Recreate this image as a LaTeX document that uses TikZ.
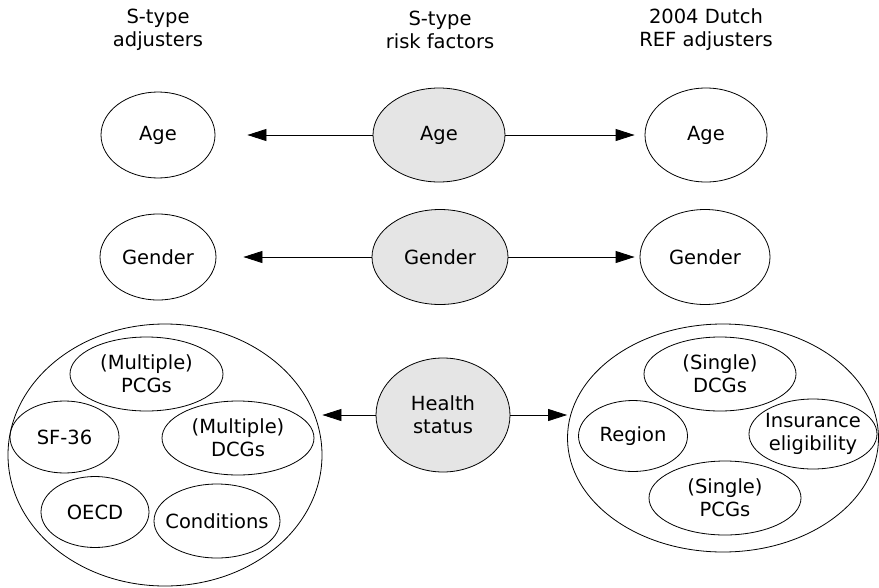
\documentclass[tikz,border=0pt]{standalone}
\usepackage{fontspec}
\setmainfont{DejaVu Sans}
\usetikzlibrary{shapes.geometric,arrows.meta}

\begin{document}
\begin{tikzpicture}[x=1pt,y=-1pt,
      headtext/.style={align=center, font=\fontsize{19.5}{23}\selectfont},
      oval/.style={ellipse, draw=black, line width=0.8pt, inner xsep=-8pt,
        inner ysep=0pt, align=center, font=\fontsize{19.5}{23}\selectfont},
      riskoval/.style={oval, fill=black!10},
      arrowline/.style={-{Triangle[length=19pt,width=12pt]}, line width=0.8pt}]

    \useasboundingbox (0,0) rectangle (879,587);

    \node[headtext] (h1) at (158,30) {S-type\\adjusters};
    \node[headtext] (h2) at (440,30) {S-type\\risk factors};
    \node[headtext] (h3) at (706,30) {2004 Dutch\\REF adjusters};

    \node[oval, minimum width=114, minimum height=86] (ageL) at (158,135) {Age};
    \node[riskoval, minimum width=132, minimum height=94] (ageS) at (439,135) {Age};
    \node[oval, minimum width=122, minimum height=94] (ageR) at (706,135) {Age};

    \node[oval, minimum width=116, minimum height=86] (gendL) at (158,257) {Gender};
    \node[riskoval, minimum width=136, minimum height=95] (gendS) at (440,257) {Gender};
    \node[oval, minimum width=130, minimum height=95] (gendR) at (705,257) {Gender};

    \node[riskoval, minimum width=134, minimum height=114] (hsS) at (443,415) {Health\\status};

    \node[oval, minimum width=314, minimum height=262] (bigL) at (165,455) {};
    \node[oval, minimum width=153, minimum height=74] (pcgL) at (146.5,374) {(Multiple)\\PCGs};
    \node[oval, minimum width=109, minimum height=72] (sfL) at (64.5,437) {SF-36};
    \node[oval, minimum width=152, minimum height=74] (dcgL) at (238,438) {(Multiple)\\DCGs};
    \node[oval, minimum width=108, minimum height=71] (oecdL) at (95,512) {OECD};
    \node[oval, minimum width=126, minimum height=74] (condL) at (217,521) {Conditions};

    \node[oval, minimum width=311, minimum height=228] (bigR) at (723,438) {};
    \node[oval, minimum width=152, minimum height=74] (dcgR) at (720,374) {(Single)\\DCGs};
    \node[oval, minimum width=109, minimum height=71] (regR) at (633,436) {Region};
    \node[oval, minimum width=128, minimum height=70] (insR) at (813,434) {Insurance\\eligibility};
    \node[oval, minimum width=152, minimum height=74] (pcgR) at (725,498) {(Single)\\PCGs};

    \draw[arrowline, shorten >=32pt] (ageS) -- (ageL);
    \draw[arrowline, shorten >=10pt] (ageS) -- (ageR);

    \draw[arrowline, shorten >=27pt] (gendS) -- (gendL);
    \draw[arrowline, shorten >=5pt] (gendS) -- (gendR);

    \draw[arrowline] (hsS.west) -- (hsS.west -| bigL.east);
    \draw[arrowline] (hsS.east) -- (hsS.east -| bigR.west);

  \end{tikzpicture}
\end{document}
